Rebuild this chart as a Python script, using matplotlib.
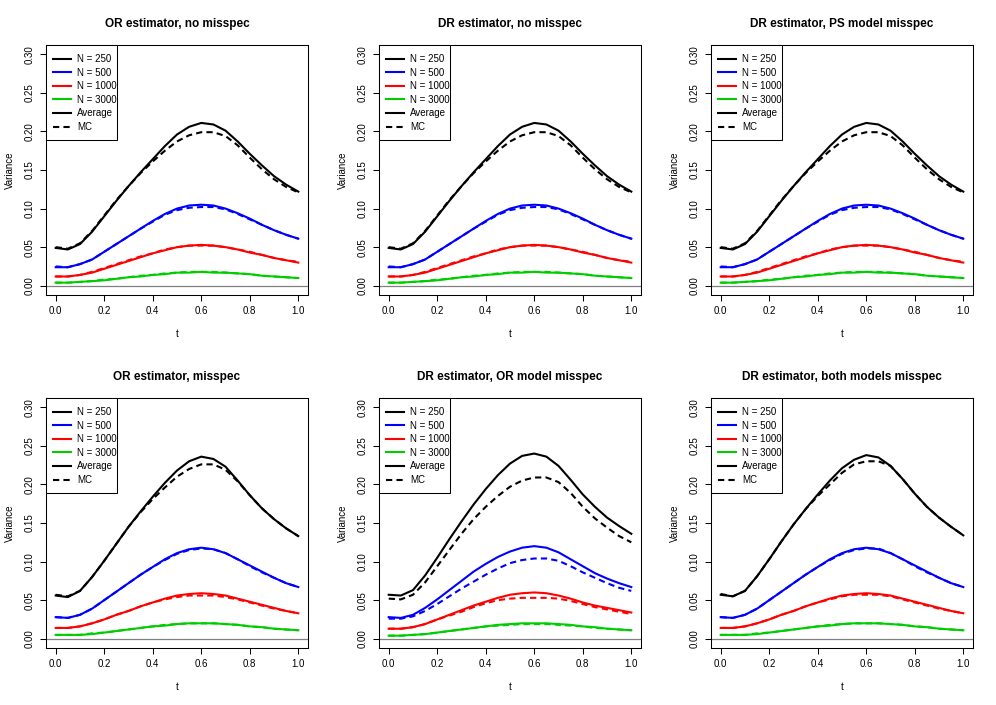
import numpy as np
import matplotlib.pyplot as plt
from matplotlib.patches import Rectangle

plt.rcParams['font.family'] = ['Liberation Sans', 'DejaVu Sans']

t = [0.00, 0.05, 0.10, 0.15, 0.20, 0.25, 0.30, 0.35, 0.40, 0.45, 0.50,
     0.55, 0.60, 0.65, 0.70, 0.75, 0.80, 0.85, 0.90, 0.95, 1.00]

titles = ["OR estimator, no misspec", "DR estimator, no misspec", "DR estimator, PS model misspec",
          "OR estimator, misspec", "DR estimator, OR model misspec", "DR estimator, both models misspec"]
sample_sizes = ["N = 250", "N = 500", "N = 1000", "N = 3000"]
colors = ['black', '#0000FF', '#FF0000', '#00CD00']

# top row (no misspec / PS misspec) - the three panels look the same
avg250_a = [0.049, 0.047, 0.054, 0.070, 0.090, 0.110, 0.129, 0.147, 0.164, 0.181, 0.196, 0.206, 0.211, 0.209, 0.201, 0.187, 0.171, 0.156, 0.142, 0.131, 0.122]
mc250_a = [0.050, 0.048, 0.055, 0.071, 0.091, 0.111, 0.129, 0.146, 0.161, 0.175, 0.187, 0.195, 0.199, 0.199, 0.194, 0.182, 0.166, 0.151, 0.138, 0.128, 0.121]
avg500_a = [0.024, 0.024, 0.028, 0.034, 0.044, 0.054, 0.064, 0.074, 0.084, 0.093, 0.100, 0.104, 0.105, 0.104, 0.100, 0.094, 0.087, 0.079, 0.072, 0.066, 0.061]
mc500_a = [0.025, 0.024, 0.028, 0.034, 0.044, 0.054, 0.064, 0.074, 0.083, 0.092, 0.098, 0.101, 0.102, 0.102, 0.099, 0.093, 0.086, 0.079, 0.072, 0.066, 0.061]
avg1000_a = [0.012, 0.012, 0.014, 0.017, 0.022, 0.027, 0.032, 0.037, 0.042, 0.046, 0.050, 0.052, 0.053, 0.052, 0.050, 0.047, 0.043, 0.040, 0.036, 0.033, 0.030]
mc1000_a = [0.012, 0.012, 0.014, 0.018, 0.023, 0.028, 0.033, 0.038, 0.042, 0.047, 0.050, 0.052, 0.052, 0.052, 0.050, 0.047, 0.044, 0.040, 0.036, 0.033, 0.031]
avg3000_a = [0.004, 0.004, 0.005, 0.006, 0.007, 0.009, 0.011, 0.012, 0.014, 0.015, 0.017, 0.017, 0.018, 0.017, 0.017, 0.016, 0.015, 0.013, 0.012, 0.011, 0.010]
mc3000_a = [0.004, 0.004, 0.005, 0.006, 0.008, 0.009, 0.011, 0.013, 0.014, 0.016, 0.017, 0.018, 0.018, 0.018, 0.017, 0.016, 0.015, 0.013, 0.012, 0.011, 0.010]

# OR estimator, misspec
avg250_b = [0.056, 0.054, 0.062, 0.080, 0.101, 0.123, 0.145, 0.165, 0.184, 0.202, 0.218, 0.230, 0.236, 0.233, 0.223, 0.205, 0.186, 0.169, 0.155, 0.143, 0.133]
mc250_b = [0.057, 0.055, 0.062, 0.080, 0.101, 0.123, 0.145, 0.164, 0.181, 0.196, 0.210, 0.220, 0.226, 0.226, 0.219, 0.204, 0.186, 0.169, 0.155, 0.143, 0.133]
avg500_b = [0.028, 0.027, 0.031, 0.039, 0.050, 0.061, 0.072, 0.083, 0.093, 0.103, 0.111, 0.116, 0.118, 0.116, 0.111, 0.103, 0.095, 0.087, 0.079, 0.072, 0.067]
mc500_b = [0.028, 0.027, 0.031, 0.039, 0.050, 0.061, 0.072, 0.083, 0.093, 0.102, 0.110, 0.115, 0.117, 0.116, 0.111, 0.103, 0.094, 0.086, 0.079, 0.072, 0.067]
avg1000_b = [0.014, 0.014, 0.016, 0.020, 0.025, 0.031, 0.036, 0.042, 0.047, 0.052, 0.056, 0.058, 0.059, 0.058, 0.056, 0.052, 0.048, 0.044, 0.040, 0.036, 0.033]
mc1000_b = [0.014, 0.014, 0.016, 0.020, 0.025, 0.031, 0.036, 0.042, 0.047, 0.051, 0.054, 0.056, 0.056, 0.056, 0.054, 0.051, 0.047, 0.043, 0.039, 0.036, 0.033]
avg3000_b = [0.005, 0.005, 0.005, 0.006, 0.008, 0.010, 0.012, 0.014, 0.016, 0.017, 0.019, 0.020, 0.020, 0.020, 0.019, 0.018, 0.016, 0.015, 0.013, 0.012, 0.011]
mc3000_b = [0.005, 0.005, 0.005, 0.007, 0.008, 0.010, 0.012, 0.014, 0.016, 0.018, 0.019, 0.020, 0.020, 0.020, 0.019, 0.018, 0.016, 0.015, 0.013, 0.012, 0.011]

# DR estimator, OR model misspec
avg250_c = [0.057, 0.056, 0.063, 0.082, 0.105, 0.129, 0.152, 0.174, 0.194, 0.212, 0.227, 0.237, 0.240, 0.236, 0.224, 0.206, 0.187, 0.171, 0.157, 0.146, 0.136]
mc250_c = [0.052, 0.051, 0.057, 0.073, 0.094, 0.115, 0.136, 0.155, 0.171, 0.185, 0.197, 0.205, 0.209, 0.209, 0.203, 0.189, 0.171, 0.156, 0.144, 0.133, 0.125]
avg500_c = [0.028, 0.027, 0.031, 0.040, 0.051, 0.063, 0.075, 0.087, 0.097, 0.106, 0.113, 0.118, 0.120, 0.118, 0.112, 0.103, 0.094, 0.085, 0.078, 0.072, 0.067]
mc500_c = [0.026, 0.026, 0.029, 0.036, 0.045, 0.055, 0.065, 0.074, 0.083, 0.091, 0.098, 0.102, 0.104, 0.104, 0.101, 0.094, 0.086, 0.079, 0.072, 0.066, 0.062]
avg1000_c = [0.013, 0.013, 0.015, 0.019, 0.025, 0.031, 0.037, 0.043, 0.048, 0.053, 0.057, 0.059, 0.060, 0.059, 0.056, 0.052, 0.047, 0.043, 0.040, 0.037, 0.034]
mc1000_c = [0.013, 0.013, 0.015, 0.019, 0.025, 0.030, 0.035, 0.041, 0.046, 0.050, 0.052, 0.053, 0.053, 0.053, 0.052, 0.049, 0.045, 0.041, 0.038, 0.035, 0.032]
avg3000_c = [0.004, 0.004, 0.005, 0.006, 0.008, 0.010, 0.012, 0.014, 0.016, 0.018, 0.019, 0.020, 0.020, 0.020, 0.019, 0.018, 0.016, 0.015, 0.013, 0.012, 0.011]
mc3000_c = [0.004, 0.004, 0.005, 0.006, 0.008, 0.010, 0.012, 0.014, 0.016, 0.017, 0.018, 0.019, 0.019, 0.019, 0.018, 0.017, 0.016, 0.014, 0.013, 0.012, 0.011]

# DR estimator, both models misspec
avg250_d = [0.057, 0.055, 0.062, 0.081, 0.103, 0.126, 0.148, 0.168, 0.187, 0.205, 0.221, 0.232, 0.238, 0.235, 0.224, 0.207, 0.188, 0.171, 0.157, 0.145, 0.134]
mc250_d = [0.058, 0.055, 0.062, 0.081, 0.103, 0.126, 0.148, 0.168, 0.185, 0.200, 0.215, 0.226, 0.230, 0.230, 0.224, 0.207, 0.188, 0.171, 0.157, 0.145, 0.134]
avg500_d = [0.028, 0.027, 0.031, 0.039, 0.050, 0.061, 0.072, 0.083, 0.093, 0.103, 0.111, 0.116, 0.118, 0.116, 0.111, 0.103, 0.095, 0.087, 0.079, 0.072, 0.067]
mc500_d = [0.028, 0.027, 0.031, 0.039, 0.050, 0.061, 0.072, 0.083, 0.093, 0.102, 0.110, 0.115, 0.117, 0.117, 0.111, 0.103, 0.094, 0.086, 0.079, 0.072, 0.067]
avg1000_d = [0.014, 0.014, 0.016, 0.020, 0.025, 0.031, 0.036, 0.042, 0.047, 0.052, 0.056, 0.058, 0.059, 0.058, 0.056, 0.052, 0.048, 0.044, 0.040, 0.036, 0.033]
mc1000_d = [0.014, 0.014, 0.016, 0.020, 0.025, 0.031, 0.036, 0.042, 0.047, 0.051, 0.055, 0.057, 0.057, 0.057, 0.055, 0.051, 0.047, 0.043, 0.039, 0.036, 0.033]
avg3000_d = [0.005, 0.005, 0.005, 0.006, 0.008, 0.010, 0.012, 0.014, 0.016, 0.017, 0.019, 0.020, 0.020, 0.020, 0.019, 0.018, 0.016, 0.015, 0.013, 0.012, 0.011]
mc3000_d = [0.005, 0.005, 0.005, 0.007, 0.008, 0.010, 0.012, 0.014, 0.016, 0.018, 0.019, 0.020, 0.020, 0.020, 0.019, 0.018, 0.016, 0.015, 0.013, 0.012, 0.011]

avg_a = [avg250_a, avg500_a, avg1000_a, avg3000_a]
mc_a = [mc250_a, mc500_a, mc1000_a, mc3000_a]
panels = [
    (avg_a, mc_a),
    (avg_a, mc_a),
    (avg_a, mc_a),
    ([avg250_b, avg500_b, avg1000_b, avg3000_b], [mc250_b, mc500_b, mc1000_b, mc3000_b]),
    ([avg250_c, avg500_c, avg1000_c, avg3000_c], [mc250_c, mc500_c, mc1000_c, mc3000_c]),
    ([avg250_d, avg500_d, avg1000_d, avg3000_d], [mc250_d, mc500_d, mc1000_d, mc3000_d]),
]

W, H = 996, 705
fig = plt.figure(figsize=(W / 100, H / 100), dpi=100)

lefts = [46, 379, 711]
tops = [45, 398]
box_w, box_h = 262, 250

for k in range(6):
    row, col = divmod(k, 3)
    ax = fig.add_axes([lefts[col] / W, 1 - (tops[row] + box_h) / H, box_w / W, box_h / H])
    avg, mc = panels[k]
    ax.axhline(0, color='#808080', lw=0.9, zorder=1)
    for c, a, m in zip(colors, avg, mc):
        ax.plot(t, a, color=c, lw=1.5, zorder=3)
        ax.plot(t, m, color=c, lw=1.5, dashes=(3, 2), zorder=3)

    ax.set_xlim(-0.04, 1.04)
    ax.set_ylim(-0.012, 0.312)
    ax.set_xticks(np.arange(0, 1.01, 0.2))
    ax.set_xticklabels(['0.0', '0.2', '0.4', '0.6', '0.8', '1.0'])
    ax.set_yticks(np.arange(0, 0.301, 0.05))
    ax.set_yticklabels(['0.00', '0.05', '0.10', '0.15', '0.20', '0.25', '0.30'],
                       rotation=90, va='center')
    ax.tick_params(direction='out', length=4, width=0.75, labelsize=7, pad=4, colors='black')
    for s in ax.spines.values():
        s.set_linewidth(0.75)
    ax.set_xlabel('t', fontsize=7, labelpad=9)
    ax.set_ylabel('Variance', fontsize=7, labelpad=7)
    ax.set_title(titles[k], fontsize=8.5, fontweight='bold', pad=13)

    # legend box drawn like R's: tight frame, text can touch the right edge
    ax.add_patch(Rectangle((0, 1 - 95 / box_h), 71 / box_w, 95 / box_h, transform=ax.transAxes,
                           facecolor='white', edgecolor='black', lw=0.75, zorder=4, clip_on=False))
    handles = [plt.Line2D([], [], color=c, lw=1.5) for c in colors]
    handles.append(plt.Line2D([], [], color='black', lw=1.5))
    handles.append(plt.Line2D([], [], color='black', lw=1.5, dashes=(3, 2)))
    leg = ax.legend(handles, sample_sizes + ['Average', 'MC'], loc='upper left',
                    bbox_to_anchor=(7 / box_w, 1 - 9 / box_h), borderaxespad=0, borderpad=0,
                    fontsize=7, frameon=False, handlelength=1.9, handletextpad=0.6,
                    labelspacing=0.37)
    leg.set_zorder(5)

fig.savefig('out.png', dpi=100)
